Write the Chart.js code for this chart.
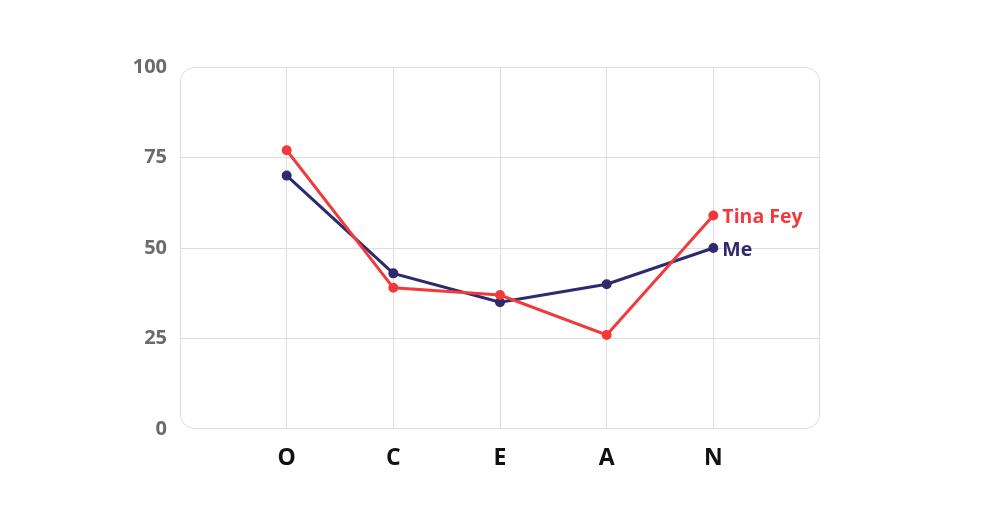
<!DOCTYPE html>
<html>
<head>
<meta charset="utf-8">
<script src="https://cdn.jsdelivr.net/npm/chart.js@4.4.0/dist/chart.umd.min.js"></script>
<style>
  html, body { margin: 0; padding: 0; background: #fff; }
  #wrap { width: 1000px; height: 525px; }
</style>
</head>
<body>
<div id="wrap"><canvas id="chart"></canvas></div>
<script>
// OCEAN traits
const categories = ['O', 'C', 'E', 'A', 'N'];
const tinaFey = [77, 39, 37, 26, 59];
const me = [70, 43, 35, 40, 50];
const yTicks = [0, 25, 50, 75, 100];

// empty slot at each end so the points sit inside the box
const labels = [''].concat(categories, ['']);
const pad = arr => [null].concat(arr, [null]);

const RED = '#F23A3C';
const NAVY = '#2E2A6E';
const GRID = '#DDDDDD';

// rounded box round the plot area
const roundedBorder = {
  id: 'roundedBorder',
  beforeDatasetsDraw(chart) {
    const { ctx, chartArea: a } = chart;
    ctx.save();
    ctx.strokeStyle = GRID;
    ctx.lineWidth = 1;
    ctx.beginPath();
    ctx.roundRect(a.left + 0.5, a.top + 0.5, a.right - a.left - 1, a.bottom - a.top - 1, 14);
    ctx.stroke();
    ctx.restore();
  }
};

// series name next to its last point
const endLabels = {
  id: 'endLabels',
  afterDatasetsDraw(chart) {
    const ctx = chart.ctx;
    ctx.save();
    ctx.font = 'bold 19.5px "Open Sans"';
    ctx.textBaseline = 'middle';
    ctx.textAlign = 'left';
    chart.data.datasets.forEach((ds, i) => {
      const pts = chart.getDatasetMeta(i).data;
      const last = pts[categories.length];
      ctx.fillStyle = ds.borderColor;
      ctx.fillText(ds.label, last.x + 9, last.y + 2);
    });
    ctx.restore();
  }
};

new Chart(document.getElementById('chart'), {
  type: 'line',
  data: {
    labels: labels,
    datasets: [{
      label: 'Tina Fey',
      data: pad(tinaFey),
      borderColor: RED,
      backgroundColor: RED,
      borderWidth: 3,
      pointRadius: 3.5,
      pointHoverRadius: 3.5,
      fill: false
    }, {
      label: 'Me',
      data: pad(me),
      borderColor: NAVY,
      backgroundColor: NAVY,
      borderWidth: 3,
      pointRadius: 3.5,
      pointHoverRadius: 3.5,
      fill: false
    }]
  },
  options: {
    responsive: true,
    maintainAspectRatio: false,
    animation: false,
    layout: { padding: { left: 0, right: 180, top: 67, bottom: 0 } },
    plugins: {
      legend: { display: false },
      tooltip: { enabled: false }
    },
    scales: {
      x: {
        border: { display: false },
        grid: {
          color: c => (c.index === 0 || c.index === labels.length - 1) ? 'transparent' : GRID,
          drawTicks: false
        },
        ticks: {
          color: '#111',
          padding: 16,
          font: { family: 'Open Sans', weight: 'bold', size: 23 }
        },
        afterFit: s => { s.height = 96; }
      },
      y: {
        min: 0,
        max: 100,
        border: { display: false },
        grid: {
          color: c => (c.tick.value === 0 || c.tick.value === 100) ? 'transparent' : GRID,
          drawTicks: false
        },
        afterBuildTicks: s => { s.ticks = yTicks.map(v => ({ value: v })); },
        ticks: {
          color: '#6B6B6B',
          padding: 13,
          font: { family: 'Open Sans', weight: 'bold', size: 20 }
        },
        afterFit: s => { s.width = 180; }
      }
    }
  },
  plugins: [roundedBorder, endLabels]
});
</script>
</body>
</html>
